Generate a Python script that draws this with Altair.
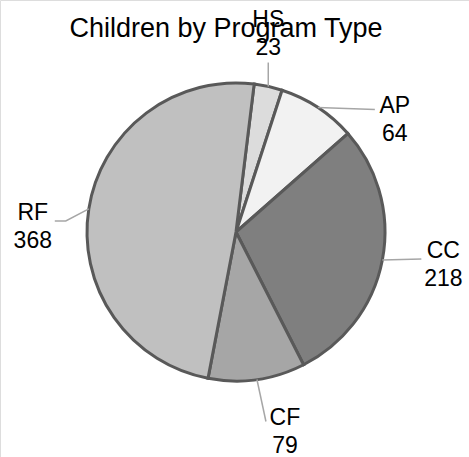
import math
import altair as alt
import pandas as pd

# Program types, clockwise from the top of the pie
programs = ["HS", "AP", "CC", "CF", "RF"]
children = [23, 64, 218, 79, 368]
fills = ["#dcdcdc", "#f2f2f2", "#7f7f7f", "#a6a6a6", "#c0c0c0"]

TITLE = "Children by Program Type"

# Pie geometry (pixels)
CX, CY, R = 236, 232, 149
START = math.radians(7)          # first slice starts slightly past 12 o'clock
FONT = "Liberation Sans"

# Leader-line layout per label: offset of the leader end from the slice edge,
# an optional elbow, and the text anchor offset from the leader end.
leader_end = {"HS": (0, -24), "AP": (57, 2), "CC": (39, -1), "CF": (9, 42), "RF": (-34, 12)}
leader_elbow = {"RF": (-23, 12)}
text_off = {"HS": (0, -36), "AP": (20, 3), "CC": (22, -1), "CF": (19, 3), "RF": (-22, -1)}
LINE_GAP = 28

total = sum(children)
pie = pd.DataFrame({"program": programs, "children": children, "order": range(len(programs))})

# Leader lines and label anchors derived from each slice's middle angle
rows, labels = [], []
acc = 0
for p, v in zip(programs, children):
    mid = START + 2 * math.pi * (acc + v / 2) / total
    acc += v
    ex, ey = CX + R * math.sin(mid), CY - R * math.cos(mid)
    pts = [(ex, ey)]
    if p in leader_elbow:
        pts.append((ex + leader_elbow[p][0], ey + leader_elbow[p][1]))
    end = (ex + leader_end[p][0], ey + leader_end[p][1])
    pts.append(end)
    for i, (px, py) in enumerate(pts):
        rows.append({"program": p, "i": i, "px": px, "py": py})
    tx, ty = end[0] + text_off[p][0], end[1] + text_off[p][1]
    labels.append({"program": p, "value": str(v), "tx": tx, "ty": ty, "ty2": ty + LINE_GAP})

leaders = pd.DataFrame(rows)
lab = pd.DataFrame(labels)

arcs = alt.Chart(pie).mark_arc(
    outerRadius=R, stroke="#595959", strokeWidth=3
).encode(
    theta=alt.Theta("children:Q", stack=True,
                    scale=alt.Scale(range=[START, START + 2 * math.pi])),
    order=alt.Order("order:Q"),
    color=alt.Color("program:N", scale=alt.Scale(domain=programs, range=fills), legend=None),
    x=alt.value(CX),
    y=alt.value(CY),
)

lines = alt.Chart(leaders).mark_line(color="#a6a6a6", strokeWidth=1.5).encode(
    x=alt.X("px:Q", scale=None),
    y=alt.Y("py:Q", scale=None),
    detail="program:N",
    order="i:Q",
)

names = alt.Chart(lab).mark_text(font=FONT, fontSize=23, color="#000000",
                                 align="center", baseline="alphabetic").encode(
    x=alt.X("tx:Q", scale=None), y=alt.Y("ty:Q", scale=None), text="program:N")

values = alt.Chart(lab).mark_text(font=FONT, fontSize=23, color="#000000",
                                  align="center", baseline="alphabetic").encode(
    x=alt.X("tx:Q", scale=None), y=alt.Y("ty2:Q", scale=None), text="value:N")

title = alt.Chart(pd.DataFrame({"t": [TITLE]})).mark_text(
    font=FONT, fontSize=27, color="#000000", align="center", baseline="alphabetic"
).encode(x=alt.value(226), y=alt.value(37), text="t:N")

chart = alt.layer(arcs, lines, title, names, values).properties(
    width=469, height=457, padding=0, autosize=alt.AutoSizeParams(type="none")
).configure_view(stroke=None).configure(background="#ffffff")

chart.save("out.html", embed_options={"renderer": "svg", "actions": False})
